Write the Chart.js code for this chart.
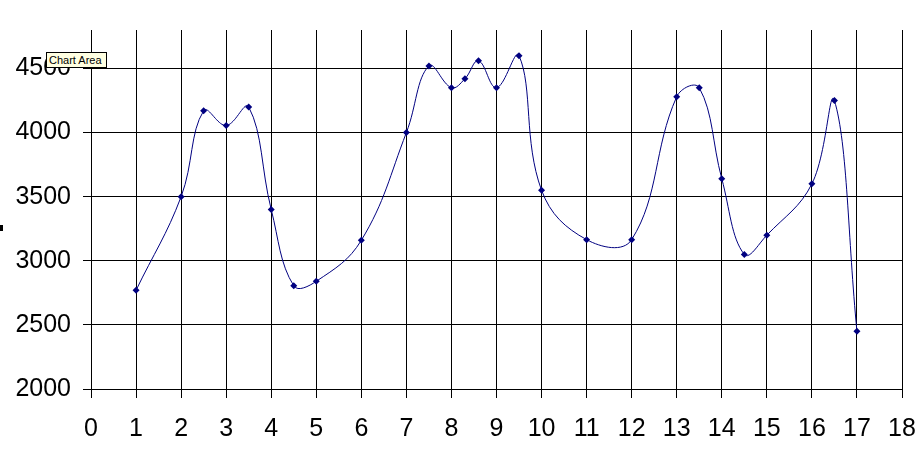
<!DOCTYPE html>
<html>
<head>
<meta charset="utf-8">
<script src="https://cdn.jsdelivr.net/npm/chart.js@4/dist/chart.umd.min.js"></script>
<style>
  html, body { margin: 0; padding: 0; background: #ffffff; }
  #wrap { position: relative; width: 924px; height: 454px; }
  canvas { position: absolute; left: 0; top: 0; }
  #tip { position: absolute; left: 46px; top: 52px; width: 61px; height: 16px;
         background: #ffffe1; border: 1px solid #000; font: 11px "Liberation Sans", Arial, sans-serif;
         line-height: 14px; padding-left: 2px; box-sizing: border-box; color: #000; white-space: nowrap; overflow: hidden; }
  #mark { position: absolute; left: 0; top: 225px; width: 3px; height: 6px; background: #000; }
</style>
</head>
<body>
<div id="wrap">
  <canvas id="c" width="924" height="454"></canvas>
  <div id="mark"></div>
  <div id="tip">Chart Area</div>
</div>
<script>
const xValues = [1, 2, 2.5, 3, 3.5, 4, 4.5, 5, 6, 7, 7.5, 8, 8.3, 8.6, 9, 9.5, 10, 11, 12, 13, 13.5, 14, 14.5, 15, 16, 16.5, 17];
const yValues = [2770, 3500, 4170, 4055, 4200, 3400, 2805, 2840, 3160, 4000, 4520, 4350, 4420, 4560, 4350, 4600, 3550, 3165, 3165, 4280, 4350, 3640, 3050, 3200, 3600, 4250, 2450];
const xTickValues = [0, 1, 2, 3, 4, 5, 6, 7, 8, 9, 10, 11, 12, 13, 14, 15, 16, 17, 18];
const yTickValues = [2000, 2500, 3000, 3500, 4000, 4500];
const xAxisMin = 0, xAxisMax = 18;
const yAxisMin = 2000, yAxisMax = 4800;

const points = xValues.map((x, i) => ({ x: x, y: yValues[i] }));
const font = { family: "'Liberation Sans', Arial, sans-serif", size: 25 };

new Chart(document.getElementById('c'), {
  type: 'line',
  data: {
    datasets: [{
      data: points,
      borderColor: '#000080',
      backgroundColor: '#000080',
      borderWidth: 1,
      pointStyle: 'rectRot',
      pointRadius: 3.5,
      pointBorderWidth: 0,
      pointBackgroundColor: '#000080',
      tension: 0.4,
      fill: false
    }]
  },
  options: {
    responsive: false,
    animation: false,
    events: [],
    layout: { padding: { left: 0, right: 22, top: 30, bottom: 0 } },
    plugins: { legend: { display: false }, tooltip: { enabled: false } },
    scales: {
      x: {
        type: 'linear',
        min: xAxisMin, max: xAxisMax,
        afterBuildTicks: (s) => { s.ticks = xTickValues.map(v => ({ value: v })); },
        grid: { color: '#000', lineWidth: 1, tickLength: 9, drawTicks: true },
        border: { display: true, color: '#000', width: 1 },
        ticks: { color: '#000', font: font, padding: 16, maxRotation: 0, autoSkip: false,
                 callback: (v) => String(v) },
        afterFit: (s) => { s.height = 65; s.paddingLeft = 0; s.paddingRight = 0; }
      },
      y: {
        type: 'linear',
        min: yAxisMin, max: yAxisMax,
        afterBuildTicks: (s) => { s.ticks = yTickValues.map(v => ({ value: v })); },
        grid: { color: '#000', lineWidth: 1, tickLength: 8, drawTicks: true },
        border: { display: true, color: '#000', width: 1 },
        ticks: { color: '#000', font: font, padding: 12, autoSkip: false,
                 callback: (v) => String(v) },
        afterFit: (s) => { s.width = 91; s.paddingTop = 0; s.paddingBottom = 0; }
      }
    }
  }
});
</script>
</body>
</html>
